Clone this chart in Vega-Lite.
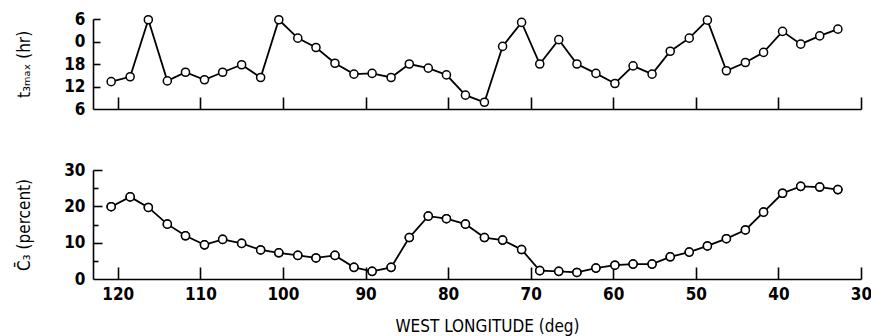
{
  "$schema": "https://vega.github.io/schema/vega-lite/v6.json",
  "background": "white",
  "padding": {"left": 15, "top": 10, "right": 4, "bottom": 4},
  "bounds": "flush",
  "spacing": 61,
  "config": {
    "view": {"stroke": null},
    "font": "DejaVu Sans Condensed, Liberation Sans Narrow, sans-serif",
    "axis": {
      "grid": false,
      "domainColor": "black",
      "domainWidth": 1.6,
      "tickColor": "black",
      "tickWidth": 1.6,
      "labelColor": "black",
      "titleColor": "black",
      "labelFont": "DejaVu Sans Condensed, Liberation Sans Narrow, sans-serif",
      "titleFont": "DejaVu Sans Condensed, Liberation Sans Narrow, sans-serif",
      "labelFontSize": 17,
      "labelFontWeight": "bold",
      "titleFontSize": 17,
      "titleFontWeight": "normal",
      "labelFlush": false,
      "labelOverlap": false
    }
  },
  "data": {
    "values": [
      {"lon": 120.8, "t": 13.3, "c": 19.9},
      {"lon": 118.5, "t": 14.6, "c": 22.6},
      {"lon": 116.3, "t": 29.8, "c": 19.7},
      {"lon": 114.0, "t": 13.5, "c": 15.1},
      {"lon": 111.8, "t": 15.8, "c": 11.9},
      {"lon": 109.5, "t": 13.8, "c": 9.4},
      {"lon": 107.3, "t": 15.8, "c": 10.9},
      {"lon": 105.0, "t": 17.8, "c": 9.8},
      {"lon": 102.7, "t": 14.4, "c": 8.0},
      {"lon": 100.5, "t": 29.8, "c": 7.2},
      {"lon": 98.2, "t": 24.9, "c": 6.5},
      {"lon": 96.0, "t": 22.4, "c": 5.8},
      {"lon": 93.7, "t": 18.2, "c": 6.5},
      {"lon": 91.4, "t": 15.3, "c": 3.2},
      {"lon": 89.2, "t": 15.5, "c": 2.1},
      {"lon": 86.9, "t": 14.4, "c": 3.2},
      {"lon": 84.7, "t": 18.0, "c": 11.4},
      {"lon": 82.4, "t": 16.9, "c": 17.3},
      {"lon": 80.2, "t": 15.1, "c": 16.6},
      {"lon": 77.9, "t": 9.7, "c": 15.1},
      {"lon": 75.6, "t": 7.8, "c": 11.4},
      {"lon": 73.4, "t": 22.7, "c": 10.7},
      {"lon": 71.1, "t": 29.1, "c": 8.1},
      {"lon": 68.9, "t": 18.0, "c": 2.3},
      {"lon": 66.6, "t": 24.5, "c": 2.1},
      {"lon": 64.4, "t": 18.0, "c": 1.8},
      {"lon": 62.1, "t": 15.5, "c": 3.0},
      {"lon": 59.8, "t": 12.8, "c": 3.8},
      {"lon": 57.6, "t": 17.5, "c": 4.1},
      {"lon": 55.3, "t": 15.3, "c": 4.1},
      {"lon": 53.1, "t": 21.4, "c": 6.1},
      {"lon": 50.8, "t": 24.9, "c": 7.4},
      {"lon": 48.6, "t": 29.7, "c": 9.1},
      {"lon": 46.3, "t": 16.2, "c": 11.1},
      {"lon": 44.0, "t": 18.4, "c": 13.5},
      {"lon": 41.8, "t": 21.1, "c": 18.4},
      {"lon": 39.5, "t": 26.7, "c": 23.6},
      {"lon": 37.3, "t": 23.3, "c": 25.5},
      {"lon": 35.0, "t": 25.5, "c": 25.3},
      {"lon": 32.8, "t": 27.3, "c": 24.6}
    ]
  },
  "vconcat": [
    {
      "width": 768,
      "height": 90,
      "layer": [
        {
          "mark": {"type": "line", "color": "black", "strokeWidth": 1.8},
          "encoding": {
            "x": {
              "field": "lon",
              "type": "quantitative",
              "scale": {"domain": [123, 30], "nice": false, "zero": false},
              "axis": {"values": [120, 110, 100, 90, 80, 70, 60, 50, 40, 30], "labels": false, "ticks": false, "title": null}
            },
            "y": {
              "field": "t",
              "type": "quantitative",
              "scale": {"domain": [6, 30], "nice": false, "zero": false},
              "axis": {"values": [6, 12, 18, 24, 30], "labelExpr": "datum.value % 24", "ticks": false, "labelPadding": 8, "title": "t₃ₘₐₓ (hr)", "titlePadding": 30}
            }
          }
        },
        {
          "mark": {"type": "point", "shape": "circle", "filled": true, "fill": "white", "stroke": "black", "strokeWidth": 1.5, "size": 65, "opacity": 1},
          "encoding": {
            "x": {
              "field": "lon",
              "type": "quantitative",
              "scale": {"domain": [123, 30], "nice": false, "zero": false},
              "axis": {"orient": "top", "offset": -90, "values": [120, 110, 100, 90, 80, 70, 60, 50, 40, 30], "labels": false, "domain": false, "tickSize": 12, "title": null}
            },
            "y": {
              "field": "t",
              "type": "quantitative",
              "scale": {"domain": [6, 30], "nice": false, "zero": false},
              "axis": {"orient": "right", "offset": -768, "values": [12, 18, 24, 30], "labels": false, "domain": false, "tickSize": 7, "title": null}
            }
          }
        }
      ],
      "resolve": {"axis": {"x": "independent", "y": "independent"}}
    },
    {
      "width": 768,
      "height": 109,
      "layer": [
        {
          "mark": {"type": "line", "color": "black", "strokeWidth": 1.8},
          "encoding": {
            "x": {
              "field": "lon",
              "type": "quantitative",
              "scale": {"domain": [123, 30], "nice": false, "zero": false},
              "axis": {"values": [120, 110, 100, 90, 80, 70, 60, 50, 40, 30], "ticks": false, "labelPadding": 7, "title": "WEST LONGITUDE (deg)", "titlePadding": 16, "titleX": 394}
            },
            "y": {
              "field": "c",
              "type": "quantitative",
              "scale": {"domain": [0, 30], "nice": false},
              "axis": {"values": [0, 10, 20, 30], "ticks": false, "labelPadding": 8, "title": "C̄₃ (percent)", "titlePadding": 30}
            }
          }
        },
        {
          "mark": {"type": "point", "shape": "circle", "filled": true, "fill": "white", "stroke": "black", "strokeWidth": 1.5, "size": 65, "opacity": 1},
          "encoding": {
            "x": {
              "field": "lon",
              "type": "quantitative",
              "scale": {"domain": [123, 30], "nice": false, "zero": false},
              "axis": {"orient": "top", "offset": -109, "values": [120, 110, 100, 90, 80, 70, 60, 50, 40, 30], "labels": false, "domain": false, "tickSize": 12, "title": null}
            },
            "y": {
              "field": "c",
              "type": "quantitative",
              "scale": {"domain": [0, 30], "nice": false},
              "axis": {"orient": "right", "offset": -768, "values": [10, 20, 30], "labels": false, "domain": false, "tickSize": 9, "title": null}
            }
          }
        },
        {
          "mark": {"type": "point", "shape": "circle", "filled": true, "fill": "white", "stroke": "black", "strokeWidth": 1.5, "size": 65, "opacity": 1},
          "encoding": {
            "x": {
              "field": "lon",
              "type": "quantitative",
              "scale": {"domain": [123, 30], "nice": false, "zero": false},
              "axis": null
            },
            "y": {
              "field": "c",
              "type": "quantitative",
              "scale": {"domain": [0, 30], "nice": false},
              "axis": {"orient": "right", "offset": -768, "values": [5, 15, 25], "labels": false, "domain": false, "tickSize": 5, "title": null}
            }
          }
        }
      ],
      "resolve": {"axis": {"x": "independent", "y": "independent"}}
    }
  ]
}
